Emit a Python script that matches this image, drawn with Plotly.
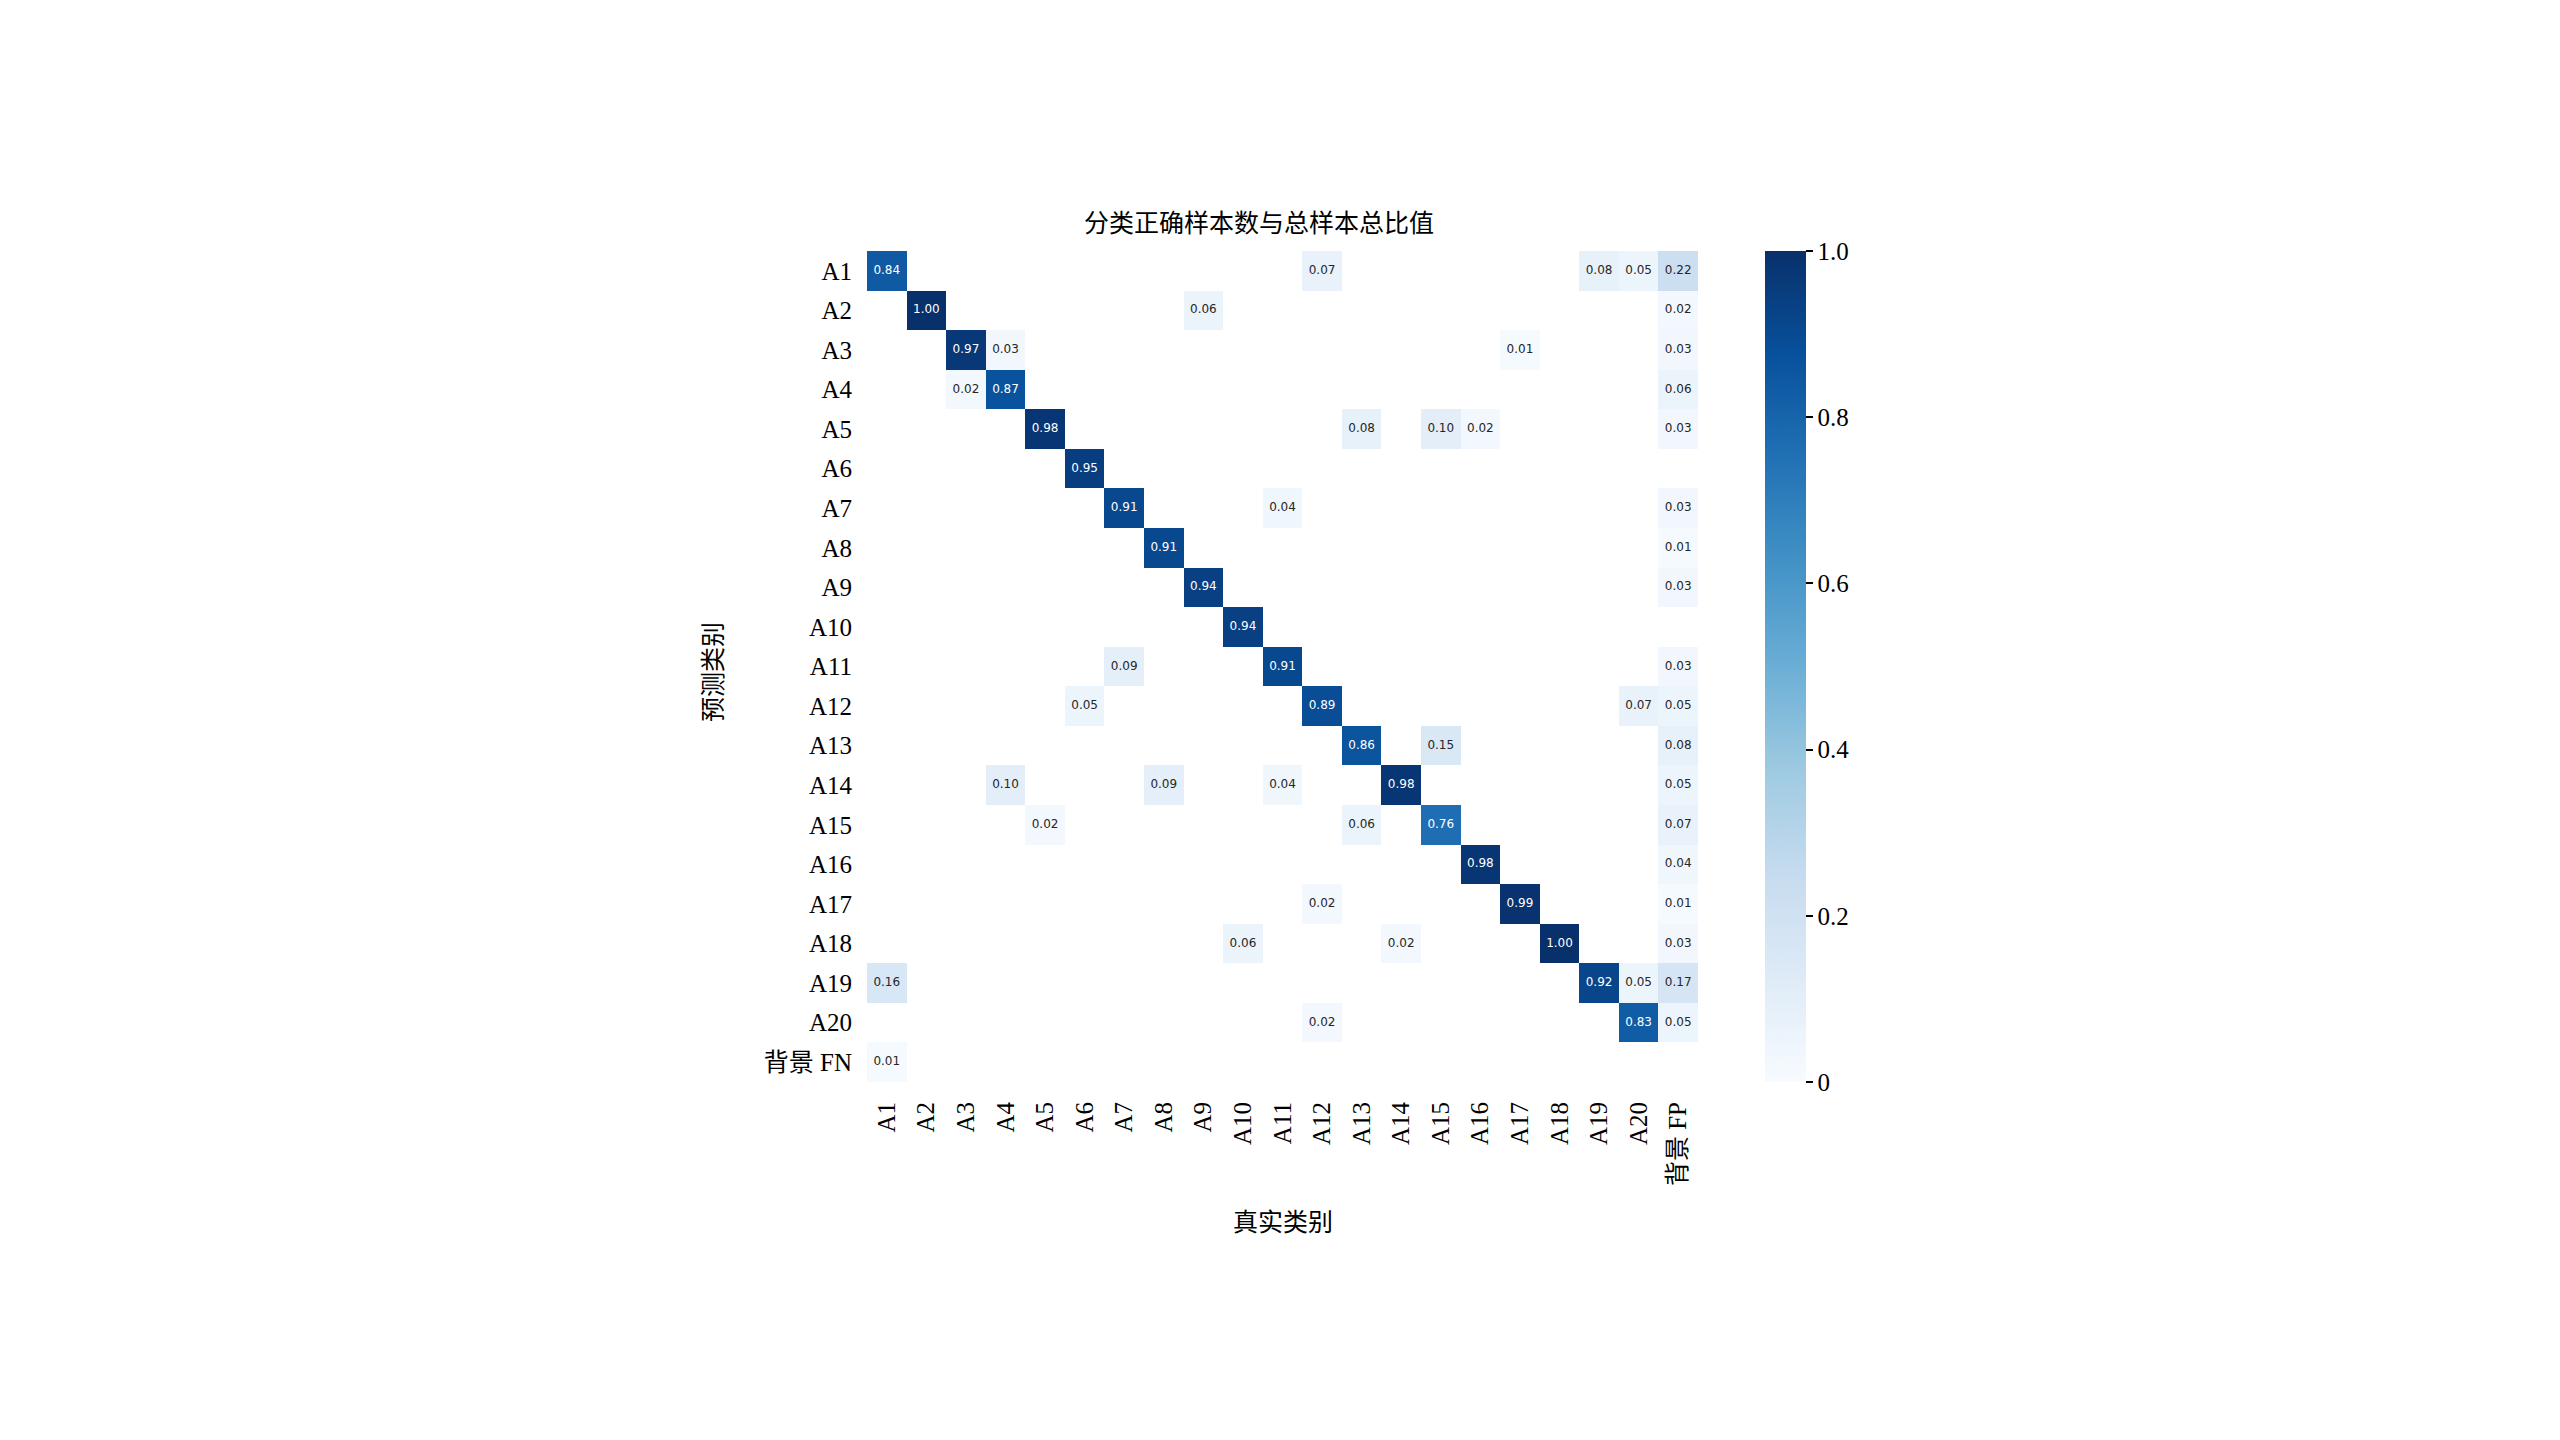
import plotly.graph_objects as go

# ---------------- data ----------------
true_labels = ["A1", "A2", "A3", "A4", "A5", "A6", "A7", "A8", "A9", "A10",
               "A11", "A12", "A13", "A14", "A15", "A16", "A17", "A18", "A19", "A20", "背景 FP"]
pred_labels = ["A1", "A2", "A3", "A4", "A5", "A6", "A7", "A8", "A9", "A10",
               "A11", "A12", "A13", "A14", "A15", "A16", "A17", "A18", "A19", "A20", "背景 FN"]

# rows = predicted class, columns = true class (0 = empty cell)
ratios = [
    # A1   A2   A3   A4   A5   A6   A7   A8   A9  A10  A11  A12  A13  A14  A15  A16  A17  A18  A19  A20   FP
    [.84, 0,   0,   0,   0,   0,   0,   0,   0,   0,   0,   .07, 0,   0,   0,   0,   0,   0,   .08, .05, .22],  # A1
    [0,   1.0, 0,   0,   0,   0,   0,   0,   .06, 0,   0,   0,   0,   0,   0,   0,   0,   0,   0,   0,   .02],  # A2
    [0,   0,   .97, .03, 0,   0,   0,   0,   0,   0,   0,   0,   0,   0,   0,   0,   .01, 0,   0,   0,   .03],  # A3
    [0,   0,   .02, .87, 0,   0,   0,   0,   0,   0,   0,   0,   0,   0,   0,   0,   0,   0,   0,   0,   .06],  # A4
    [0,   0,   0,   0,   .98, 0,   0,   0,   0,   0,   0,   0,   .08, 0,   .10, .02, 0,   0,   0,   0,   .03],  # A5
    [0,   0,   0,   0,   0,   .95, 0,   0,   0,   0,   0,   0,   0,   0,   0,   0,   0,   0,   0,   0,   0],    # A6
    [0,   0,   0,   0,   0,   0,   .91, 0,   0,   0,   .04, 0,   0,   0,   0,   0,   0,   0,   0,   0,   .03],  # A7
    [0,   0,   0,   0,   0,   0,   0,   .91, 0,   0,   0,   0,   0,   0,   0,   0,   0,   0,   0,   0,   .01],  # A8
    [0,   0,   0,   0,   0,   0,   0,   0,   .94, 0,   0,   0,   0,   0,   0,   0,   0,   0,   0,   0,   .03],  # A9
    [0,   0,   0,   0,   0,   0,   0,   0,   0,   .94, 0,   0,   0,   0,   0,   0,   0,   0,   0,   0,   0],    # A10
    [0,   0,   0,   0,   0,   0,   .09, 0,   0,   0,   .91, 0,   0,   0,   0,   0,   0,   0,   0,   0,   .03],  # A11
    [0,   0,   0,   0,   0,   .05, 0,   0,   0,   0,   0,   .89, 0,   0,   0,   0,   0,   0,   0,   .07, .05],  # A12
    [0,   0,   0,   0,   0,   0,   0,   0,   0,   0,   0,   0,   .86, 0,   .15, 0,   0,   0,   0,   0,   .08],  # A13
    [0,   0,   0,   .10, 0,   0,   0,   .09, 0,   0,   .04, 0,   0,   .98, 0,   0,   0,   0,   0,   0,   .05],  # A14
    [0,   0,   0,   0,   .02, 0,   0,   0,   0,   0,   0,   0,   .06, 0,   .76, 0,   0,   0,   0,   0,   .07],  # A15
    [0,   0,   0,   0,   0,   0,   0,   0,   0,   0,   0,   0,   0,   0,   0,   .98, 0,   0,   0,   0,   .04],  # A16
    [0,   0,   0,   0,   0,   0,   0,   0,   0,   0,   0,   .02, 0,   0,   0,   0,   .99, 0,   0,   0,   .01],  # A17
    [0,   0,   0,   0,   0,   0,   0,   0,   0,   .06, 0,   0,   0,   .02, 0,   0,   0,   1.0, 0,   0,   .03],  # A18
    [.16, 0,   0,   0,   0,   0,   0,   0,   0,   0,   0,   0,   0,   0,   0,   0,   0,   0,   .92, .05, .17],  # A19
    [0,   0,   0,   0,   0,   0,   0,   0,   0,   0,   0,   .02, 0,   0,   0,   0,   0,   0,   0,   .83, .05],  # A20
    [.01, 0,   0,   0,   0,   0,   0,   0,   0,   0,   0,   0,   0,   0,   0,   0,   0,   0,   0,   0,   0],    # 背景 FN
]

cbar_tickvals = [0, 0.2, 0.4, 0.6, 0.8, 1.0]
cbar_ticktext = ["0", "0.2", "0.4", "0.6", "0.8", "1.0"]

title_text = "分类正确样本数与总样本总比值"
x_title = "真实类别"
y_title = "预测类别"

# ---------------- style ----------------
W, H = 2560, 1440
OFF = 8  # page body margin in the browser
SERIF = "Times New Roman, Liberation Serif, Noto Sans CJK SC, serif"
blues = ["#f7fbff", "#deebf7", "#c6dbef", "#9ecae1", "#6baed6",
         "#4292c6", "#2171b5", "#08519c", "#08306b"]
colorscale = [[i / (len(blues) - 1), c] for i, c in enumerate(blues)]


def px(xp):
    return (xp - OFF) / W


def py(yp):
    return 1 - (yp - OFF) / H


# heatmap box in screen pixels
X0, X1 = 867, 1698
Y0, Y1 = 251, 1082

z = [[v if v > 0 else None for v in row] for row in ratios]

fig = go.Figure()
fig.add_trace(go.Heatmap(
    z=z, x=true_labels, y=pred_labels,
    zmin=0, zmax=1, colorscale=colorscale,
    hoverongaps=False, xgap=0, ygap=0,
    colorbar=dict(
        x=px(1765), xanchor="left", xref="paper", xpad=0,
        y=py((Y0 + Y1) / 2), yanchor="middle", ypad=0,
        len=Y1 - Y0, lenmode="pixels",
        thickness=41, thicknessmode="pixels",
        outlinewidth=0,
        tickmode="array", tickvals=cbar_tickvals, ticktext=cbar_ticktext,
        ticks="outside", ticklen=7, tickwidth=1.5, tickcolor="black",
        tickfont=dict(family=SERIF, size=25, color="black"),
    ),
))

tx, ty, tt, tc = [], [], [], []
for i, row in enumerate(ratios):
    for j, v in enumerate(row):
        if v > 0:
            tx.append(true_labels[j])
            ty.append(pred_labels[i])
            tt.append(f"{v:.2f}")
            tc.append("white" if v > 0.5 else "#262626")

fig.add_trace(go.Scatter(
    x=tx, y=ty, mode="text", text=tt,
    textfont=dict(family="DejaVu Sans", size=12, color=tc),
    hoverinfo="skip", showlegend=False,
))

fig.update_layout(
    width=W, height=H,
    margin=dict(l=0, r=0, t=0, b=0),
    paper_bgcolor="white", plot_bgcolor="white",
    showlegend=False,
    xaxis=dict(
        domain=[px(X0), px(X1)], type="category",
        categoryorder="array", categoryarray=true_labels,
        range=[-0.5, len(true_labels) - 0.5],
        tickangle=-90, ticks="", showgrid=False, zeroline=False, showline=False,
        tickfont=dict(family=SERIF, size=25, color="black"),
        ticklabelstandoff=14,
    ),
    yaxis=dict(
        domain=[py(Y1), py(Y0)], type="category",
        categoryorder="array", categoryarray=pred_labels,
        range=[len(pred_labels) - 0.5, -0.5],
        ticks="", showgrid=False, zeroline=False, showline=False,
        tickfont=dict(family=SERIF, size=25, color="black"),
        ticklabelstandoff=14,
    ),
    annotations=[
        dict(text=title_text, x=px(1259), y=py(223), xref="paper", yref="paper",
             showarrow=False, xanchor="center", yanchor="middle",
             font=dict(family=SERIF, size=25, color="black")),
        dict(text=x_title, x=px(1283), y=py(1222), xref="paper", yref="paper",
             showarrow=False, xanchor="center", yanchor="middle",
             font=dict(family=SERIF, size=25, color="black")),
        dict(text=y_title, x=px(713), y=py(672), xref="paper", yref="paper",
             showarrow=False, xanchor="center", yanchor="middle", textangle=-90,
             font=dict(family=SERIF, size=25, color="black")),
    ],
)

fig.write_html("out.html")
